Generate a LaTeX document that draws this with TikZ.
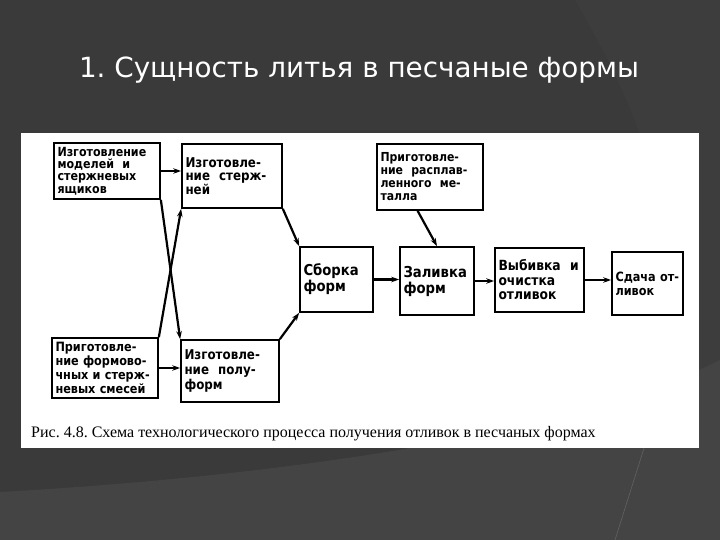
\documentclass[tikz,border=0pt]{standalone}
\usepackage{fontspec}
\usetikzlibrary{arrows.meta,calc}
\newfontfamily\titlefont{DejaVu Sans}
\newfontfamily\boxfont[FakeStretch=0.88]{DejaVu Sans Bold}
\newfontfamily\capfont{Liberation Serif}
\definecolor{bgdark}{HTML}{3A3A3A}
\definecolor{bglight}{HTML}{444444}
\definecolor{bgmid}{HTML}{3D3D3D}
\tikzset{
  blk/.style={draw=black, line width=1.7pt, fill=white, align=left, inner xsep=3.5pt, inner ysep=0pt},
  fs/.style 2 args={font=\boxfont\fontsize{#1}{#2}\selectfont},
  dims/.style 2 args={minimum width=#1pt, minimum height=#2pt, text width=#1pt-5pt},
  arr/.style={line width=2.2pt, -{Stealth[length=8pt,width=5.5pt]}}
}
\frenchspacing
\begin{document}
\exhyphenpenalty=10000
\hyphenpenalty=10000
\begin{tikzpicture}[x=1pt,y=-1pt]
\useasboundingbox (0,0) rectangle (720,540);
% background
\fill[bgdark] (0,0) rectangle (720,540);
\fill[bgmid] (575,0) .. controls (610,60) and (640,120) .. (660,200) -- (700,400) -- (720,400) -- (720,0) -- cycle;
\fill[bglight] (0,492) .. controls (250,478) and (560,440) .. (720,360) -- (720,540) -- (0,540) -- cycle;
\draw[bgdark!80!white, line width=0.6pt] (645,445) -- (615,540);
% title
\node[anchor=base, text=white, font=\titlefont\fontsize{27.8}{30}\selectfont, inner sep=0pt] (title) at (359,78) {1.~Сущность литья в песчаные формы};
% white panel
\fill[white] (21,133) rectangle (699,448);
% boxes
\node[blk, fs={12.6}{12.4}, dims={104}{56}] (b1) at (107,171) {Изготовление\\моделей~~и\\стержневых\\ящиков};
\node[blk, fs={13.5}{12.8}, dims={98}{64}] (b2) at (232,176) {Изготовле-\\ние~~стерж-\\ней};
\node[blk, fs={12.8}{14}, dims={104}{60}] (b3) at (105,368) {Приготовле-\\ние~формово-\\чных~и~стерж-\\невых~смесей};
\node[blk, fs={13.5}{15}, dims={96}{62}] (b4) at (230,371) {Изготовле-\\ние~~полу-\\форм};
\node[blk, fs={15}{16}, dims={71}{65}] (b5) at (336.5,279.5) {Сборка\\форм};
\node[blk, fs={12.4}{13}, dims={104}{66}] (b6) at (430,177) {Приготовле-\\ние~~расплав-\\ленного~~ме-\\талла};
\node[blk, fs={15}{16}, dims={72}{68}] (b7) at (437,281) {Заливка\\форм};
\node[blk, fs={14}{14.5}, dims={87}{64}] (b8) at (539.5,280) {Выбивка~~и\\очистка\\отливок};
\node[blk, fs={12.8}{14}, dims={69}{63}] (b9) at (647.5,283.5) {Сдача~от-\\ливок};
% caption
\node[anchor=base west, inner sep=0pt, font=\capfont\fontsize{16}{18}\selectfont] (cap) at (31,437) {Рис. 4.8. Схема технологического процесса получения отливок в песчаных формах};
% arrows
\draw[arr] (b1.east) -- (b1.east -| b2.west);
\draw[arr] (b3.east) -- (b3.east -| b4.west);
\draw[arr] (b1.south east) -- (b4.north west);
\draw[arr] (b3.north east) -- (b2.south west);
\draw[arr] (b2.south east) -- (b5.north west);
\draw[arr] (b4.north east) -- (b5.south west);
\draw[arr] ($(b6.south west)!0.385!(b6.south east)$) -- (b7.north);
\draw[arr] (b5.east) -- (b5.east -| b7.west);
\draw[arr] (b7.east) -- (b7.east -| b8.west);
\draw[arr] (b8.east) -- (b8.east -| b9.west);
\end{tikzpicture}
\end{document}
